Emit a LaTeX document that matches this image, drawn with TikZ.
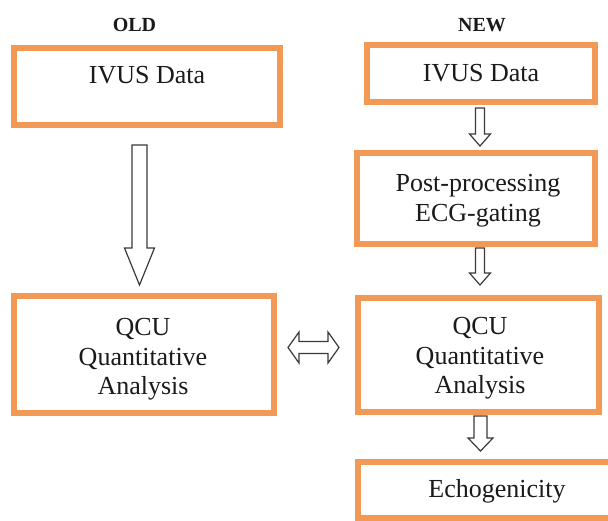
\documentclass[tikz,border=0pt]{standalone}
\usepackage{fontspec}
\setmainfont{Liberation Serif}
\definecolor{boxorange}{HTML}{F29955}
\definecolor{arrowgray}{HTML}{3A3A3A}
\definecolor{txt}{HTML}{1A1A1A}
\begin{document}
\begin{tikzpicture}[x=1pt,y=-1pt,
  obox/.style={draw=boxorange, line width=6pt, fill=white, inner sep=0pt},
  btxt/.style={text=txt, font=\fontsize{26}{29.5}\selectfont, align=center, inner sep=0pt},
  hdr/.style={text=txt, font=\bfseries\fontsize{20}{24}\selectfont, inner sep=0pt, anchor=base},
  blk/.style={draw=arrowgray, line width=1.2pt, fill=white, line join=miter}]
\useasboundingbox (0,0) rectangle (608,521);
\begin{scope}
\clip (0,0) rectangle (608,521);
% headers
\node[hdr] (old) at (134.5,31.5) {OLD};
\node[hdr] (new) at (482,31.5) {NEW};
% boxes
\node[obox, minimum width=266pt, minimum height=77pt] (l1) at (147,86.5) {};
\node[obox, minimum width=228pt, minimum height=57pt] (r1) at (481,73.5) {};
\node[obox, minimum width=238pt, minimum height=91pt] (r2) at (476,198.5) {};
\node[obox, minimum width=260pt, minimum height=117pt] (l2) at (144,354.5) {};
\node[obox, minimum width=241pt, minimum height=114pt] (r3) at (478.5,355) {};
\node[obox, minimum width=282pt, minimum height=56pt] (r4) at (499,490) {};
% texts
\node[btxt] (l1t) at (147,75) {IVUS Data};
\node[btxt] (r1t) at (481,73.5) {IVUS Data};
\node[btxt] (r2t) at (478,200.5) {Post-processing\\ECG-gating};
\node[btxt] (l2t) at (143,359.5) {QCU\\Quantitative\\Analysis};
\node[btxt] (r3t) at (480,358.5) {QCU\\Quantitative\\Analysis};
\node[btxt] (r4t) at (497,491) {Echogenicity};
% block arrows
\draw[blk] (132,145) -- (147,145) -- (147,248) -- (154.5,248) -- (139.5,285) -- (124.5,248) -- (132,248) -- cycle;
\draw[blk] (475.5,108) -- (484.5,108) -- (484.5,134) -- (490.5,134) -- (480,146) -- (469.5,134) -- (475.5,134) -- cycle;
\draw[blk] (475.5,248) -- (484.5,248) -- (484.5,273) -- (490.5,273) -- (480,285) -- (469.5,273) -- (475.5,273) -- cycle;
\draw[blk] (474,416) -- (487,416) -- (487,438) -- (493,438) -- (480.5,451) -- (468,438) -- (474,438) -- cycle;
\draw[blk] (288,347.5) -- (299,332) -- (299,341.5) -- (328,341.5) -- (328,332) -- (339,347.5) -- (328,363) -- (328,353.5) -- (299,353.5) -- (299,363) -- cycle;
\end{scope}
\end{tikzpicture}
\end{document}
